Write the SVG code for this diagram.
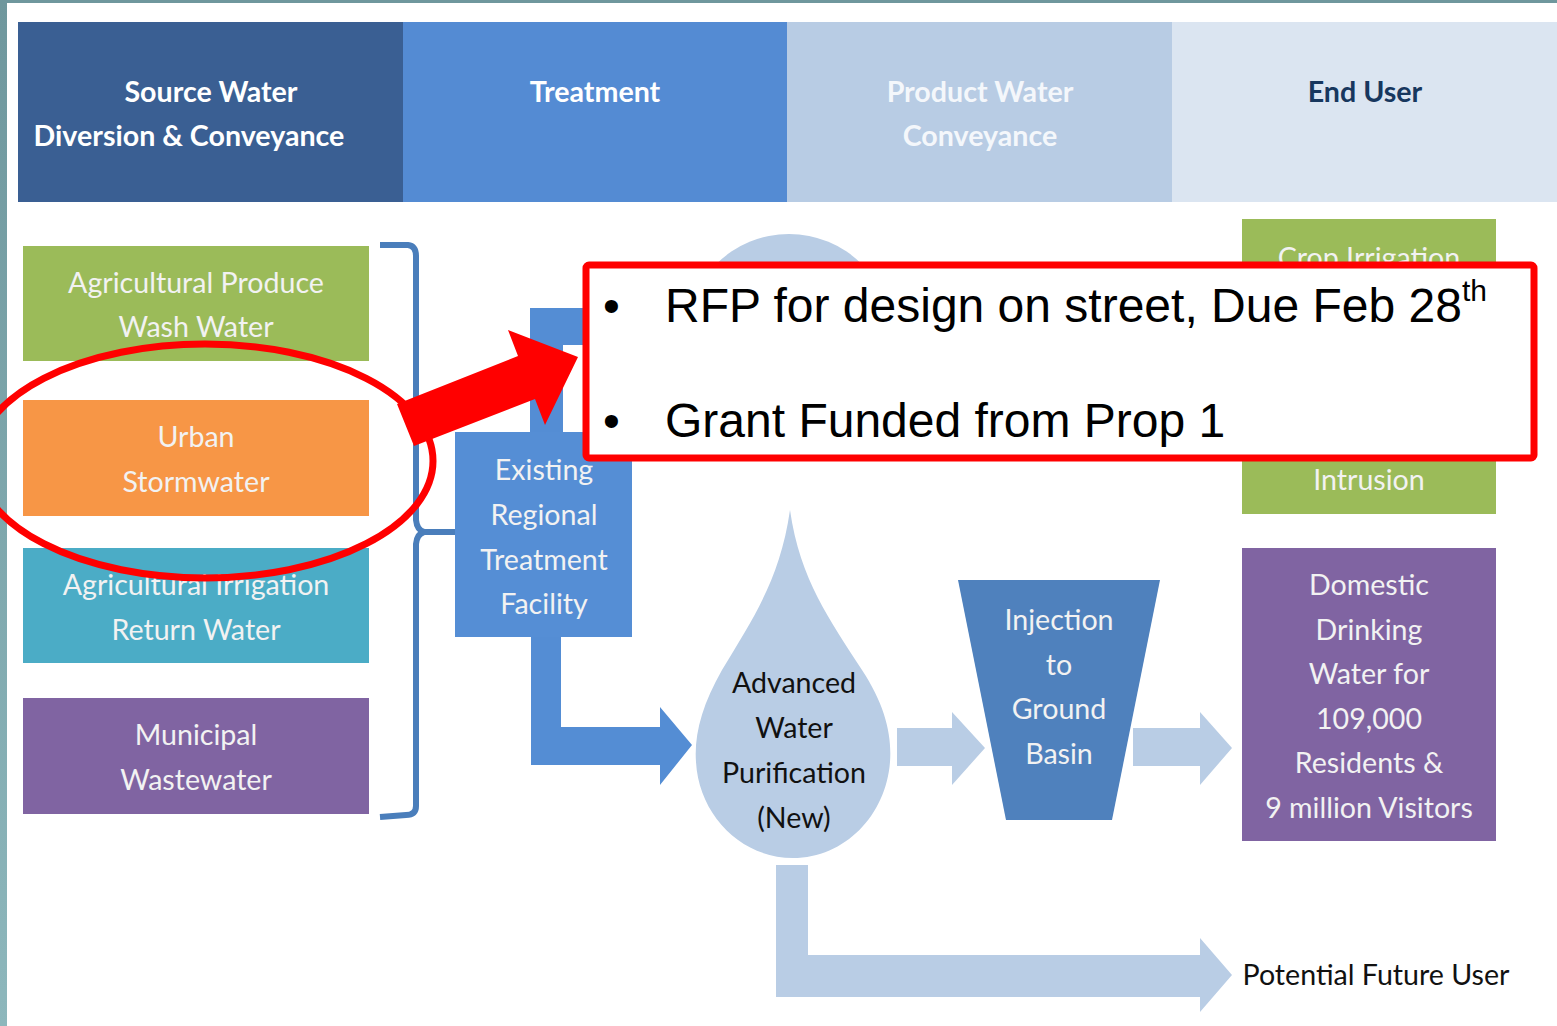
<svg xmlns="http://www.w3.org/2000/svg" width="1557" height="1026" viewBox="0 0 1557 1026">
<defs>
<style>
.c{font-family:Lato,"Open Sans","DejaVu Sans",sans-serif;text-anchor:middle}
.hd{font-size:28.6px;font-weight:bold}
.bx{font-size:28.6px;fill:#f2f2f2}
.dk{fill:#111}
.ar{font-family:"Liberation Sans",Arial,sans-serif;font-size:48px;fill:#000}
</style>
<linearGradient id="lg" x1="0" y1="0" x2="0" y2="1">
<stop offset="0" stop-color="#6f979d"/><stop offset="1" stop-color="#8db7bc"/>
</linearGradient>
</defs>
<rect x="0" y="0" width="1557" height="1026" fill="#ffffff"/>
<rect x="0" y="0" width="1557" height="3" fill="#6f979d"/>
<rect x="0" y="0" width="7" height="1026" fill="url(#lg)"/>

<g id="header">
<rect x="18" y="22" width="385" height="180" fill="#3a5f93"/>
<rect x="403" y="22" width="384" height="180" fill="#548bd3"/>
<rect x="787" y="22" width="385" height="180" fill="#b8cce4"/>
<rect x="1172" y="22" width="385" height="180" fill="#dbe5f1"/>
<text class="c hd" x="211" y="102" fill="#fff">Source Water</text>
<text class="c hd" x="189" y="146" fill="#fff">Diversion &amp; Conveyance</text>
<text class="c hd" x="595" y="102" fill="#fff">Treatment</text>
<text class="c hd" x="980" y="102" fill="#f4f7fb">Product Water</text>
<text class="c hd" x="980" y="146" fill="#f4f7fb">Conveyance</text>
<text class="c hd" x="1365" y="102" fill="#17375e">End User</text>
</g>

<g id="connectors">
<path d="M380,245 L408,245 Q416,246 416,256 L416,520 Q417,530 424,532 L455,532 M424,532 Q417,534 416,544 L416,806 Q416,815 406,815 L380,817" fill="none" stroke="#4a7ebb" stroke-width="6"/>
<polygon points="530,308 590,308 590,345 563,345 563,432 530,432" fill="#548dd4"/>
<polygon points="531,630 561,630 561,727 660,727 660,707 692,745 660,785 660,765 531,765" fill="#548dd4"/>
<polygon points="897,728 952,728 952,712 985,748 952,785 952,766 897,766" fill="#b9cde5"/>
<polygon points="1133,728 1200,728 1200,712 1232,748 1200,785 1200,766 1133,766" fill="#b9cde5"/>
<polygon points="776,865 808,865 808,955 1200,955 1200,938 1232,975 1200,1012 1200,997 776,997" fill="#b9cde5"/>
</g>

<g id="n-circle"><circle cx="789" cy="337" r="103" fill="#b9cde5"/></g>

<g id="n-agri-produce">
<rect x="23" y="246" width="346" height="115" fill="#9bbb59"/>
<text class="c bx" x="196" y="293">Agricultural Produce</text>
<text class="c bx" x="196" y="337">Wash Water</text>
</g>
<g id="n-urban">
<rect x="23" y="400" width="346" height="116" fill="#f79646"/>
<text class="c bx" x="196" y="447">Urban</text>
<text class="c bx" x="196" y="492">Stormwater</text>
</g>
<g id="n-agri-irrigation">
<rect x="23" y="548" width="346" height="115" fill="#4bacc6"/>
<text class="c bx" x="196" y="595">Agricultural Irrigation</text>
<text class="c bx" x="196" y="640">Return Water</text>
</g>
<g id="n-municipal">
<rect x="23" y="698" width="346" height="116" fill="#8064a2"/>
<text class="c bx" x="196" y="745">Municipal</text>
<text class="c bx" x="196" y="790">Wastewater</text>
</g>

<g id="n-existing">
<rect x="455" y="432" width="177" height="205" fill="#558ed5"/>
<text class="c bx" x="544" y="480">Existing</text>
<text class="c bx" x="544" y="525">Regional</text>
<text class="c bx" x="544" y="570">Treatment</text>
<text class="c bx" x="544" y="614">Facility</text>
</g>

<g id="n-advanced">
<path d="M790,510 C800,580 830,620 862,670 C885,705 892,735 890,762 C886,815 845,858 793,858 C741,858 699,815 696,762 C694,735 702,705 722,670 C752,620 780,580 790,510 Z" fill="#b9cde5"/>
<text class="c bx dk" x="794" y="693">Advanced</text>
<text class="c bx dk" x="794" y="738">Water</text>
<text class="c bx dk" x="794" y="783">Purification</text>
<text class="c bx dk" x="794" y="828">(New)</text>
</g>

<g id="n-injection">
<polygon points="958,580 1160,580 1112,820 1006,820" fill="#4f81bd"/>
<text class="c bx" x="1059" y="630">Injection</text>
<text class="c bx" x="1059" y="675">to</text>
<text class="c bx" x="1059" y="719">Ground</text>
<text class="c bx" x="1059" y="764">Basin</text>
</g>

<g id="n-crop">
<rect x="1242" y="219" width="254" height="295" fill="#9bbb59"/>
<text class="c bx" x="1369" y="268">Crop Irrigation</text>
<text class="c bx" x="1369" y="490">Intrusion</text>
</g>

<g id="n-domestic">
<rect x="1242" y="548" width="254" height="293" fill="#8064a2"/>
<text class="c bx" x="1369" y="595">Domestic</text>
<text class="c bx" x="1369" y="640">Drinking</text>
<text class="c bx" x="1369" y="684">Water for</text>
<text class="c bx" x="1369" y="729">109,000</text>
<text class="c bx" x="1369" y="773">Residents &amp;</text>
<text class="c bx" x="1369" y="818">9 million Visitors</text>
</g>

<g id="n-future">
<text class="c bx dk" x="1376" y="985">Potential Future User</text>
</g>

<g id="annotation">
<ellipse cx="205" cy="461" rx="228" ry="117" fill="none" stroke="#ff0000" stroke-width="7"/>
<polygon points="397,404 518,356 508,330 578,357 545,425 535,399 414,446" fill="#ff0000"/>
<rect x="586" y="265" width="948" height="193" rx="3" fill="#ffffff" stroke="#ff0000" stroke-width="7"/>
<text class="ar" x="603" y="322">•</text>
<text class="ar" x="665" y="322">RFP for design on street, Due Feb 28<tspan font-size="30" dy="-21">th</tspan></text>
<text class="ar" x="603" y="437">•</text>
<text class="ar" x="665" y="437">Grant Funded from Prop 1</text>
</g>
</svg>
